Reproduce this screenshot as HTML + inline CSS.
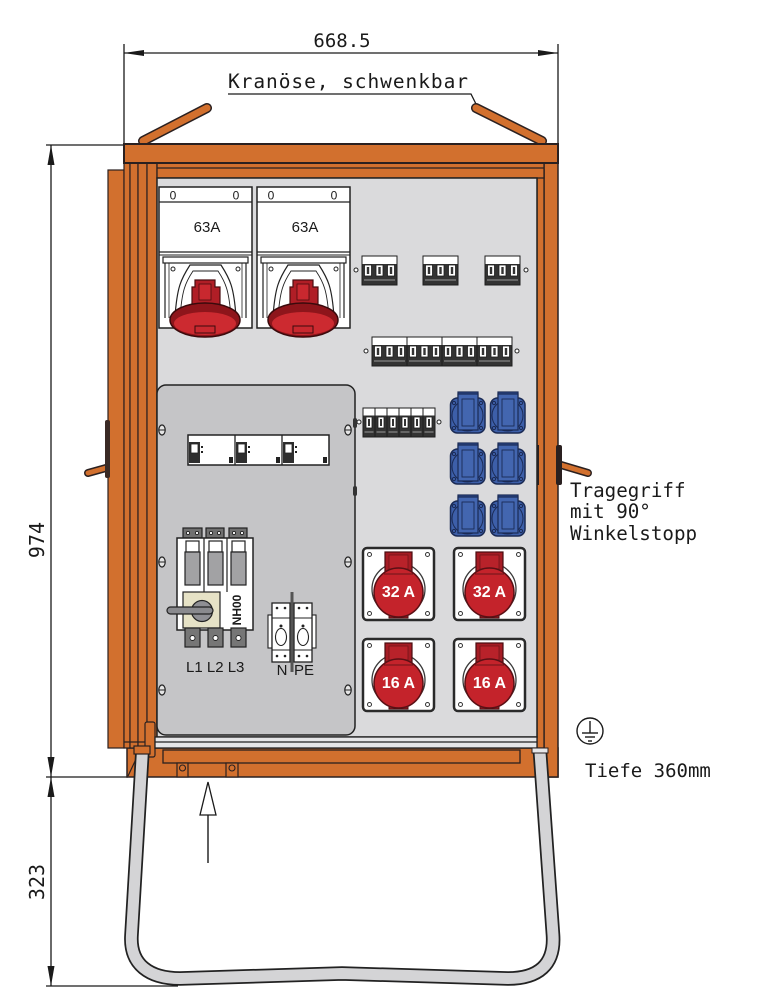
<!DOCTYPE html>
<html><head><meta charset="utf-8"><style>
html,body{margin:0;padding:0;background:#fff;}
svg{display:block;}
.t{font-family:"DejaVu Sans Mono","Liberation Mono",monospace;fill:#1a1a1a;}
.s{font-family:"Liberation Sans",sans-serif;fill:#1a1a1a;}
</style></head><body>
<svg width="768" height="1000" viewBox="0 0 768 1000" xmlns="http://www.w3.org/2000/svg">
<defs>
 <g id="b3">
  <rect x="0" y="0" width="35" height="29" fill="#333" stroke="#1e1e1e" stroke-width="1"/>
  <rect x="0.5" y="0.5" width="34" height="7.5" fill="#fff"/>
  <rect x="2.5" y="9" width="7" height="11" fill="#fff" stroke="#1e1e1e" stroke-width="0.8"/>
  <rect x="4.8" y="11" width="2.4" height="7" fill="#333"/>
  <rect x="14" y="9" width="7" height="11" fill="#fff" stroke="#1e1e1e" stroke-width="0.8"/>
  <rect x="16.3" y="11" width="2.4" height="7" fill="#333"/>
  <rect x="25.5" y="9" width="7" height="11" fill="#fff" stroke="#1e1e1e" stroke-width="0.8"/>
  <rect x="27.8" y="11" width="2.4" height="7" fill="#333"/>
  <line x1="2" y1="24" x2="33" y2="24" stroke="#9a9a9a" stroke-width="1"/>
 </g>
 <g id="b1">
  <rect x="0" y="0" width="12" height="29" fill="#333" stroke="#1e1e1e" stroke-width="1"/>
  <rect x="0.5" y="0.5" width="11" height="7" fill="#fff"/>
  <rect x="3" y="9" width="6" height="11" fill="#fff" stroke="#1e1e1e" stroke-width="0.8"/>
  <rect x="5" y="11" width="2" height="7" fill="#333"/>
  <line x1="1.5" y1="24" x2="10.5" y2="24" stroke="#9a9a9a" stroke-width="1"/>
 </g>
 <g id="blue">
  <rect x="8" y="0" width="20" height="8" fill="#2f4d92" stroke="#1b2b55" stroke-width="1.2"/>
  <rect x="0.5" y="6" width="34.5" height="35" rx="7" fill="#3d5fa9" stroke="#1b2b55" stroke-width="1.5"/>
  <circle cx="17.5" cy="23.5" r="15.5" fill="none" stroke="#1b2b55" stroke-width="1"/>
  <rect x="8" y="2" width="20" height="36" fill="#4366b0" stroke="#1b2b55" stroke-width="1.2"/>
  <rect x="12" y="7" width="12" height="27" fill="none" stroke="#1b2b55" stroke-width="0.9"/>
  <circle cx="4" cy="11" r="1.6" fill="none" stroke="#1b2b55"/>
  <circle cx="31" cy="11" r="1.6" fill="none" stroke="#1b2b55"/>
  <circle cx="4" cy="36" r="1.6" fill="none" stroke="#1b2b55"/>
  <circle cx="31" cy="36" r="1.6" fill="none" stroke="#1b2b55"/>
 </g>
 <g id="cee">
  <rect x="1" y="1" width="71" height="72" rx="4" fill="#fff" stroke="#2a2a2a" stroke-width="2.5"/>
  <circle cx="7.5" cy="7.5" r="2" fill="#fff" stroke="#333" stroke-width="1"/>
  <circle cx="65.5" cy="7.5" r="2" fill="#fff" stroke="#333" stroke-width="1"/>
  <circle cx="7.5" cy="66.5" r="2" fill="#fff" stroke="#333" stroke-width="1"/>
  <circle cx="65.5" cy="66.5" r="2" fill="#fff" stroke="#333" stroke-width="1"/>
  <ellipse cx="36.5" cy="42" rx="26.5" ry="26" fill="none" stroke="#3a3a3a" stroke-width="1.3"/>
  <rect x="23" y="5" width="27" height="20" fill="#a51c24" stroke="#4a0d10" stroke-width="1.2"/>
  <rect x="27" y="8" width="19" height="14" fill="#b8222a" stroke="#6a1418" stroke-width="0.7"/>
  <rect x="27" y="62" width="19" height="9" fill="#a51c24" stroke="#4a0d10" stroke-width="1"/>
  <circle cx="36.5" cy="45.5" r="24.5" fill="#c4232b" stroke="#5a1015" stroke-width="1.5"/>
  <path d="M22 27 L51 27" stroke="#6a1418" stroke-width="1"/>
 </g>
 <g id="m63">
  <rect x="0" y="0" width="93" height="141" fill="#fff" stroke="#222" stroke-width="1.5"/>
  <line x1="0" y1="15" x2="93" y2="15" stroke="#222" stroke-width="1.3"/>
  <text x="14" y="12.5" class="s" font-size="12" text-anchor="middle">0</text>
  <text x="77" y="12.5" class="s" font-size="12" text-anchor="middle">0</text>
  <text x="48" y="45" class="s" font-size="15" text-anchor="middle">63A</text>
  <line x1="0" y1="65" x2="93" y2="65" stroke="#222" stroke-width="1.3"/>
  <line x1="0" y1="68" x2="93" y2="68" stroke="#222" stroke-width="1"/>
  <rect x="4" y="70" width="85" height="6" fill="#fff" stroke="#222" stroke-width="1.2"/>
  <line x1="6" y1="76" x2="6" y2="131" stroke="#222" stroke-width="1.2"/>
  <line x1="87" y1="76" x2="87" y2="131" stroke="#222" stroke-width="1.2"/>
  <line x1="10" y1="76" x2="10" y2="131" stroke="#222" stroke-width="0.8"/>
  <line x1="83" y1="76" x2="83" y2="131" stroke="#222" stroke-width="0.8"/>
  <circle cx="14" cy="82" r="2" fill="none" stroke="#222"/>
  <circle cx="79" cy="82" r="2" fill="none" stroke="#222"/>
  <path d="M16 130 C18 100 22 92 31 78 L62 78 C71 92 75 100 77 130" fill="none" stroke="#222" stroke-width="1.2"/>
  <path d="M21 130 C23 104 26 96 34 84 L59 84 C67 96 70 104 72 130" fill="none" stroke="#222" stroke-width="0.9"/>
  <path d="M36 93 L56 93 L56 100 L61 100 L61 118 L33 118 L33 100 L36 100 Z" fill="#b01e26" stroke="#4a0d10" stroke-width="1.2"/>
  <rect x="40" y="97" width="12" height="16" fill="#c9282f" stroke="#4a0d10" stroke-width="0.8"/>
  <ellipse cx="46" cy="133" rx="35" ry="17" fill="#8e151b" stroke="#3a0a0c" stroke-width="1.5"/>
  <ellipse cx="46" cy="136.5" rx="31" ry="11.5" fill="#cc2a30"/>
  <rect x="36" y="139" width="20" height="7" fill="#c9282f" stroke="#3a0a0c" stroke-width="1"/>
 </g>
 <g id="scr">
  <ellipse cx="0" cy="0" rx="3.2" ry="5" fill="#e4e4e4" stroke="#222" stroke-width="1.2"/>
  <line x1="-3" y1="0" x2="3" y2="0" stroke="#222" stroke-width="1"/>
 </g>
</defs>

<!-- Dimensions -->
<g stroke="#1a1a1a" stroke-width="1.3" fill="none">
 <line x1="124" y1="53" x2="558" y2="53"/>
 <line x1="124" y1="44" x2="124" y2="145"/>
 <line x1="558" y1="44" x2="558" y2="145"/>
 <line x1="51" y1="145" x2="51" y2="777"/>
 <line x1="51" y1="777" x2="51" y2="986"/>
 <line x1="46" y1="145" x2="124" y2="145"/>
 <line x1="46" y1="777" x2="128" y2="777"/>
 <line x1="46" y1="986" x2="178" y2="986"/>
 <polyline points="228,94 471,94 476,104"/>
</g>
<g fill="#1a1a1a">
 <polygon points="124,53 144,50 144,56"/>
 <polygon points="558,53 538,50 538,56"/>
 <polygon points="51,145 47.5,165 54.5,165"/>
 <polygon points="51,777 47.5,757 54.5,757"/>
 <polygon points="51,777 47.5,797 54.5,797"/>
 <polygon points="51,986 47.5,966 54.5,966"/>
</g>
<text x="342" y="47" class="t" font-size="19" text-anchor="middle">668.5</text>
<text x="228" y="88" class="t" font-size="19.5" textLength="240" lengthAdjust="spacing">Kranöse, schwenkbar</text>
<text transform="translate(44,540) rotate(-90)" class="t" font-size="20" text-anchor="middle">974</text>
<text transform="translate(44,882) rotate(-90)" class="t" font-size="20" text-anchor="middle">323</text>
<text x="570" y="497" class="t" font-size="19.2">Tragegriff</text>
<text x="570" y="518" class="t" font-size="19.2">mit 90°</text>
<text x="570" y="540" class="t" font-size="19.2">Winkelstopp</text>
<text x="585" y="777" class="t" font-size="19">Tiefe 360mm</text>

<!-- ground symbol -->
<g stroke="#1a1a1a" stroke-width="1.4" fill="none">
 <circle cx="590" cy="731" r="13"/>
 <line x1="590" y1="721" x2="590" y2="733"/>
 <line x1="582" y1="733" x2="598" y2="733"/>
 <line x1="585" y1="737" x2="595" y2="737"/>
 <line x1="588" y1="741" x2="592" y2="741"/>
</g>

<!-- eye bolts / handles -->
<g stroke-linecap="round">
 <line x1="143" y1="141" x2="207" y2="108" stroke="#2a2020" stroke-width="10"/>
 <line x1="143" y1="141" x2="207" y2="108" stroke="#d2702e" stroke-width="7"/>
 <line x1="476" y1="108" x2="542" y2="141" stroke="#2a2020" stroke-width="10"/>
 <line x1="476" y1="108" x2="542" y2="141" stroke="#d2702e" stroke-width="7"/>
 <line x1="88" y1="473" x2="106" y2="468" stroke="#2a2020" stroke-width="8"/>
 <line x1="88" y1="473" x2="106" y2="468" stroke="#d2702e" stroke-width="5"/>
 <line x1="561" y1="465" x2="588" y2="473" stroke="#2a2020" stroke-width="8"/>
 <line x1="561" y1="465" x2="588" y2="473" stroke="#d2702e" stroke-width="5"/>
</g>

<!-- base -->
<rect x="127" y="748" width="431" height="29" fill="#d2702e" stroke="#2a2020" stroke-width="1.5"/>
<rect x="163" y="750" width="357" height="13" fill="#d2702e" stroke="#2a2020" stroke-width="1.3"/>
<rect x="177" y="763" width="11" height="14" fill="#d2702e" stroke="#2a2020" stroke-width="1.2"/>
<circle cx="182.5" cy="768" r="3" fill="none" stroke="#2a2020" stroke-width="1.1"/>
<rect x="226" y="763" width="12" height="14" fill="#d2702e" stroke="#2a2020" stroke-width="1.2"/>
<circle cx="232" cy="768" r="3" fill="none" stroke="#2a2020" stroke-width="1.1"/>
<line x1="137" y1="757" x2="128" y2="776" stroke="#2a2020" stroke-width="1.2"/>
<line x1="545" y1="757" x2="557" y2="776" stroke="#2a2020" stroke-width="1.2"/>

<!-- left door strips -->
<g fill="#d2702e" stroke="#2a2020" stroke-width="1.2">
 <rect x="108" y="170" width="16" height="578"/>
 <rect x="124" y="163" width="6" height="585"/>
 <rect x="130" y="163" width="8" height="585"/>
 <rect x="138" y="163" width="9" height="585"/>
 <rect x="147" y="163" width="10" height="585"/>
</g>
<line x1="124" y1="742" x2="157" y2="742" stroke="#2a2020" stroke-width="1.2"/>
<rect x="105" y="420" width="5" height="58" rx="2" fill="#3a2a25"/>
<rect x="145" y="722" width="10" height="35" rx="2" fill="#d2702e" stroke="#2a2020" stroke-width="1.2"/>

<!-- right frame -->
<rect x="544" y="163" width="14" height="614" fill="#d2702e" stroke="#2a2020" stroke-width="1.5"/>
<rect x="537" y="170" width="7" height="578" fill="#d2702e" stroke="#2a2020" stroke-width="1.3"/>
<rect x="556" y="445" width="6" height="40" rx="2" fill="#2a2020"/>
<rect x="535" y="445" width="4" height="40" fill="#2a2020"/>

<!-- top inner frame -->
<rect x="157" y="163" width="387" height="15" fill="#d2702e" stroke="#2a2020" stroke-width="1.3"/>
<line x1="157" y1="168" x2="544" y2="168" stroke="#2a2020" stroke-width="1.3"/>

<!-- roof -->
<rect x="124" y="144" width="434" height="19" fill="#d2702e" stroke="#2a2020" stroke-width="2"/>

<!-- main panel -->
<rect x="157" y="178" width="380" height="559" fill="#dadadc" stroke="#222" stroke-width="1.5"/>
<rect x="155" y="737" width="382" height="11" fill="#e6e6e8" stroke="#222" stroke-width="1.3"/>
<line x1="155" y1="742" x2="537" y2="742" stroke="#222" stroke-width="1.3"/>

<!-- 63A modules -->
<use href="#m63" x="159" y="187"/>
<use href="#m63" x="257" y="187"/>

<!-- breakers -->
<g fill="#fff" stroke="#222" stroke-width="1">
 <circle cx="356" cy="270" r="2"/><circle cx="526" cy="270" r="2"/>
 <circle cx="366" cy="351" r="2"/><circle cx="517" cy="351" r="2"/>
 <circle cx="359" cy="422" r="2"/><circle cx="439" cy="422" r="2"/>
</g>
<use href="#b3" x="362" y="256"/>
<use href="#b3" x="423" y="256"/>
<use href="#b3" x="485" y="256"/>
<use href="#b3" x="372" y="337"/>
<use href="#b3" x="407" y="337"/>
<use href="#b3" x="442" y="337"/>
<use href="#b3" x="477" y="337"/>
<use href="#b1" x="363" y="408"/>
<use href="#b1" x="375" y="408"/>
<use href="#b1" x="387" y="408"/>
<use href="#b1" x="399" y="408"/>
<use href="#b1" x="411" y="408"/>
<use href="#b1" x="423" y="408"/>

<!-- blue sockets -->
<use href="#blue" x="450" y="392"/>
<use href="#blue" x="490" y="392"/>
<use href="#blue" x="450" y="443"/>
<use href="#blue" x="490" y="443"/>
<use href="#blue" x="450" y="495"/>
<use href="#blue" x="490" y="495"/>

<!-- CEE sockets -->
<use href="#cee" x="362" y="547"/>
<use href="#cee" x="453" y="547"/>
<use href="#cee" x="362" y="638"/>
<use href="#cee" x="453" y="638"/>
<g font-family="Liberation Sans, sans-serif" font-weight="bold" font-size="16" fill="#fff" text-anchor="middle">
 <text x="398.5" y="597">32 A</text>
 <text x="489.5" y="597">32 A</text>
 <text x="398.5" y="688">16 A</text>
 <text x="489.5" y="688">16 A</text>
</g>

<!-- left sub-panel -->
<rect x="157" y="385" width="198" height="350" rx="9" fill="#c5c5c7" stroke="#222" stroke-width="1.5"/>
<rect x="353" y="418" width="4" height="10" rx="2" fill="#333"/>
<rect x="353" y="486" width="4" height="10" rx="2" fill="#333"/>
<use href="#scr" x="162" y="430"/>
<use href="#scr" x="348" y="430"/>
<use href="#scr" x="162" y="562"/>
<use href="#scr" x="348" y="562"/>
<use href="#scr" x="162" y="690"/>
<use href="#scr" x="348" y="690"/>

<!-- RCD -->
<rect x="188" y="435" width="141" height="30" fill="#fff" stroke="#222" stroke-width="1.5"/>
<line x1="235" y1="435" x2="235" y2="465" stroke="#222" stroke-width="1.3"/>
<line x1="282" y1="435" x2="282" y2="465" stroke="#222" stroke-width="1.3"/>
<g id="rc">
 <rect x="189" y="442" width="11" height="21" fill="#2e2e2e"/>
 <rect x="191" y="444" width="7" height="9" fill="#fff" stroke="#222" stroke-width="0.8"/>
 <rect x="201" y="446" width="2" height="2" fill="#222"/>
 <rect x="201" y="451" width="2" height="2" fill="#222"/>
 <rect x="229" y="457" width="4" height="6" fill="#222"/>
</g>
<use href="#rc" x="47" y="0"/>
<use href="#rc" x="94" y="0"/>

<!-- NH00 disconnector -->
<g stroke="#222" stroke-width="1.2">
 <rect x="183" y="528" width="19" height="10" fill="#707070"/>
 <rect x="206" y="528" width="18" height="10" fill="#707070"/>
 <rect x="229" y="528" width="18" height="10" fill="#707070"/>
 <rect x="177" y="538" width="76" height="92" fill="#fff" stroke-width="1.5"/>
 <line x1="204" y1="538" x2="204" y2="592"/>
 <line x1="227" y1="538" x2="227" y2="592"/>
 <rect x="186" y="541" width="13" height="11" fill="#fff"/>
 <rect x="209" y="541" width="13" height="11" fill="#fff"/>
 <rect x="232" y="541" width="13" height="11" fill="#fff"/>
 <rect x="185" y="552" width="15" height="33" fill="#a2a2a4"/>
 <rect x="208" y="552" width="15" height="33" fill="#a2a2a4"/>
 <rect x="231" y="552" width="15" height="33" fill="#a2a2a4"/>
 <rect x="183" y="592" width="37" height="36" fill="#e6e2c6"/>
 <circle cx="202" cy="611" r="10.5" fill="#8f8f94"/>
 <rect x="167" y="607" width="46" height="7" rx="3.5" fill="#8a8a8e"/>
 <rect x="185" y="628" width="15" height="19" fill="#767676"/>
 <rect x="208" y="628" width="15" height="19" fill="#767676"/>
 <rect x="231" y="628" width="15" height="19" fill="#767676"/>
</g>
<g fill="#fff" stroke="#222" stroke-width="0.9">
 <circle cx="188" cy="533" r="1.6"/><circle cx="197" cy="533" r="1.6"/>
 <circle cx="211" cy="533" r="1.6"/><circle cx="219" cy="533" r="1.6"/>
 <circle cx="234" cy="533" r="1.6"/><circle cx="242" cy="533" r="1.6"/>
 <circle cx="192.5" cy="638" r="2.5"/><circle cx="215.5" cy="638" r="2.5"/><circle cx="238.5" cy="638" r="2.5"/>
</g>
<text transform="translate(241,610) rotate(-90)" class="s" font-size="12" font-weight="bold" text-anchor="middle">NH00</text>
<text x="186" y="672" class="s" font-size="15">L1 L2 L3</text>

<!-- N / PE terminals -->
<g stroke="#222" stroke-width="1.1">
 <rect x="268" y="615" width="4" height="33" fill="#fff"/>
 <rect x="312" y="615" width="4" height="33" fill="#fff"/>
 <rect x="272" y="603" width="18" height="59" fill="#fff" stroke-width="1.3"/>
 <rect x="294" y="603" width="18" height="59" fill="#fff" stroke-width="1.3"/>
 <line x1="272" y1="618" x2="290" y2="618"/>
 <line x1="294" y1="618" x2="312" y2="618"/>
 <line x1="272" y1="650" x2="290" y2="650"/>
 <line x1="294" y1="650" x2="312" y2="650"/>
 <ellipse cx="281" cy="637" rx="5.5" ry="8.5" fill="#fff"/>
 <ellipse cx="303" cy="637" rx="5.5" ry="8.5" fill="#fff"/>
</g>
<rect x="290.5" y="592" width="3" height="80" fill="#555"/>
<g fill="#222">
 <circle cx="277" cy="608" r="1.3"/><circle cx="285" cy="608" r="1.3"/>
 <circle cx="299" cy="608" r="1.3"/><circle cx="307" cy="608" r="1.3"/>
 <circle cx="281" cy="626" r="1.5"/><circle cx="303" cy="626" r="1.5"/>
 <circle cx="277" cy="656" r="1.3"/><circle cx="285" cy="656" r="1.3"/>
 <circle cx="299" cy="656" r="1.3"/><circle cx="307" cy="656" r="1.3"/>
</g>
<text x="282" y="675" class="s" font-size="15" text-anchor="middle">N</text>
<text x="304" y="675" class="s" font-size="15" text-anchor="middle">PE</text>

<!-- stand tube -->
<path d="M142.5 750 L131.5 935 C129.5 965 150 978.5 180 978.5 L342 973.5 L508 978.5 C538 978.5 555 965 553 935 L540 752" fill="none" stroke="#222" stroke-width="14.5" stroke-linejoin="round"/>
<path d="M142.5 750 L131.5 935 C129.5 965 150 978.5 180 978.5 L342 973.5 L508 978.5 C538 978.5 555 965 553 935 L540 752" fill="none" stroke="#d4d4d6" stroke-width="11" stroke-linejoin="round"/>
<rect x="134" y="746" width="16" height="8" fill="#d2702e" stroke="#2a2020" stroke-width="1.2"/>
<rect x="532" y="748" width="16" height="5" fill="#e6e6e8" stroke="#2a2020" stroke-width="1"/>

<!-- arrow -->
<line x1="208" y1="815" x2="208" y2="863" stroke="#1a1a1a" stroke-width="1.4"/>
<polygon points="208,782 200,815 216,815" fill="#fff" stroke="#1a1a1a" stroke-width="1.3"/>
</svg>
</body></html>
